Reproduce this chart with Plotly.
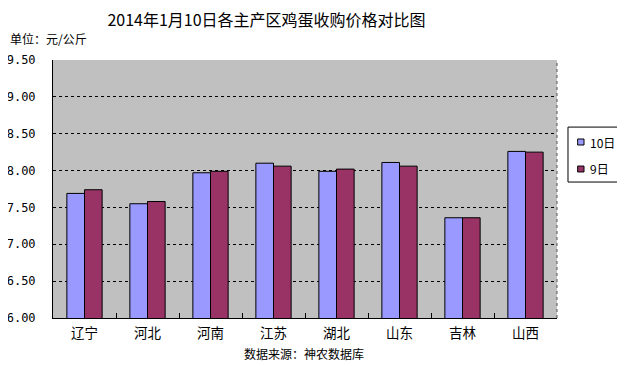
import plotly.graph_objects as go

categories = ["辽宁", "河北", "河南", "江苏", "湖北", "山东", "吉林", "山西"]
day10 = [7.69, 7.55, 7.97, 8.10, 7.99, 8.11, 7.36, 8.26]
day9 = [7.74, 7.58, 7.99, 8.06, 8.02, 8.06, 7.36, 8.25]
series_names = ["10日", "9日"]
series_colors = ["#9999FF", "#993366"]
y_ticks = [6.0, 6.5, 7.0, 7.5, 8.0, 8.5, 9.0, 9.5]
y_tick_labels = ["6.00", "6.50", "7.00", "7.50", "8.00", "8.50", "9.00", "9.50"]

FONT = "Noto Sans CJK SC"

fig = go.Figure()
for vals, name, col in zip([day10, day9], series_names, series_colors):
    fig.add_trace(go.Bar(x=categories, y=vals, name=name, showlegend=False,
                         marker=dict(color=col, line=dict(color="#000000", width=1))))

# Figure is offset 8px by page body margin; plot area: x 45..549, y 52..310 (figure px)
shapes = [
    dict(type="line", xref="paper", yref="paper", x0=1, x1=1, y0=0, y1=1,
         line=dict(color="#555555", width=1, dash="dot")),
    dict(type="rect", xref="paper", yref="paper", x0=1.0218, x1=1.123, y0=0.527, y1=0.740,
         line=dict(color="black", width=1), fillcolor="white"),
    dict(type="rect", xref="paper", yref="paper", x0=1.041, x1=1.0536, y0=0.6705, y1=0.6938,
         line=dict(color="black", width=1), fillcolor=series_colors[0]),
    dict(type="rect", xref="paper", yref="paper", x0=1.041, x1=1.0536, y0=0.566, y1=0.589,
         line=dict(color="black", width=1), fillcolor=series_colors[1]),
]

annotations = [
    dict(text="单位：元/公斤", xref="paper", yref="paper", x=-0.0893, y=1.085,
         xanchor="left", yanchor="middle", showarrow=False, font=dict(family=FONT, size=12)),
    dict(text="数据来源：神农数据库", xref="paper", yref="paper", x=0.498, y=-0.1357,
         xanchor="center", yanchor="middle", showarrow=False, font=dict(family=FONT, size=12)),
    dict(text=series_names[0], xref="paper", yref="paper", x=1.0615, y=0.682,
         xanchor="left", yanchor="middle", showarrow=False, font=dict(family=FONT, size=12)),
    dict(text=series_names[1], xref="paper", yref="paper", x=1.0615, y=0.581,
         xanchor="left", yanchor="middle", showarrow=False, font=dict(family=FONT, size=12)),
]

fig.update_layout(
    width=625, height=366,
    margin=dict(l=45, r=76, t=52, b=56, autoexpand=False),
    paper_bgcolor="white",
    plot_bgcolor="#C0C0C0",
    barmode="group",
    bargap=0.44,
    bargroupgap=0,
    showlegend=False,
    font=dict(family=FONT, size=12, color="black"),
    title=dict(text="2014年1月10日各主产区鸡蛋收购价格对比图", x=0.4136, xanchor="center",
               xref="container", yref="container", y=0.967, yanchor="middle",
               font=dict(family=FONT, size=16, color="black")),
    xaxis=dict(showline=True, linecolor="black", linewidth=1,
               ticks="inside", tickson="boundaries", ticklen=5, tickcolor="black",
               tickfont=dict(family=FONT, size=13.5), showgrid=False, ticklabelstandoff=3),
    yaxis=dict(range=[6.0, 9.5], tickvals=y_ticks, ticktext=y_tick_labels,
               showline=True, linecolor="black", linewidth=1,
               showgrid=True, gridcolor="black", griddash="3px,3px", gridwidth=1,
               zeroline=False, ticks="", ticklabelstandoff=14,
               tickfont=dict(family="DejaVu Sans Mono", size=12)),
    shapes=shapes,
    annotations=annotations,
)

fig.write_html("out.html")
